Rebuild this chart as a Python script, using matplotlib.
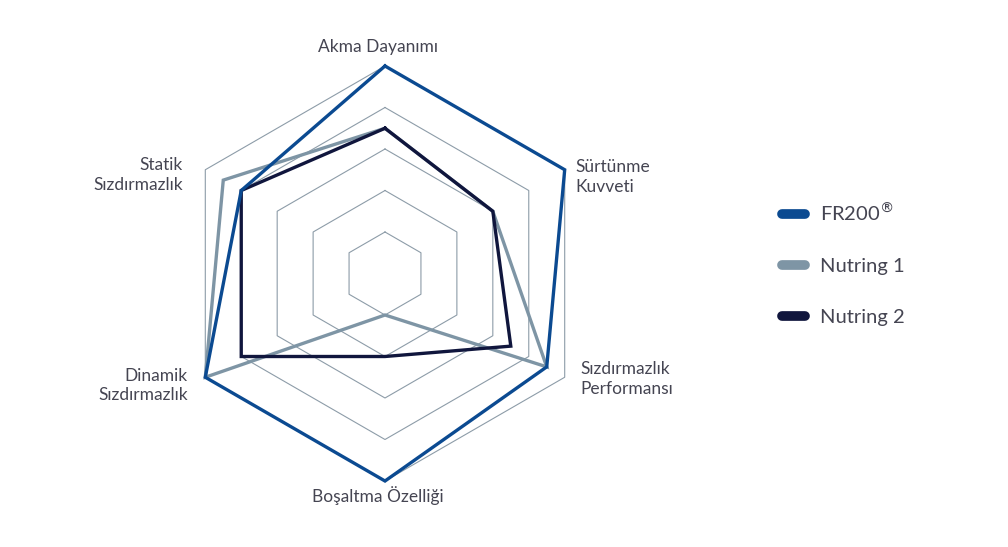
import numpy as np
import matplotlib
matplotlib.use("Agg")
import matplotlib.pyplot as plt
from matplotlib.lines import Line2D

categories = ["Akma Dayanımı", "Sürtünme\nKuvveti", "Sızdırmazlık\nPerformansı",
              "Boşaltma Özelliği", "Dinamik\nSızdırmazlık", "Statik\nSızdırmazlık"]
series_names = ["FR200$^{\\circledR}$", "Nutring 1", "Nutring 2"]
fr200 = [5, 5, 4.5, 5, 5, 4]
nutring1 = [3.5, 3, 4.5, 1, 5, 4.5]
nutring2 = [3.5, 3, 3.5, 2, 4, 4]
levels = [1, 2, 3, 4, 5]

colors = ["#0b4a91", "#7e95a5", "#10163d"]
grid_color = "#8d9ca8"
text_color = "#454552"

plt.rcParams["font.family"] = ["Lato", "DejaVu Sans"]

W, H, dpi = 1008, 547, 100
fig = plt.figure(figsize=(W / dpi, H / dpi), dpi=dpi)
ax = fig.add_axes([0, 0, 1, 1])
unit = 41.5  # pixels per level
cx, cy = 385, 273.5
ax.set_xlim(-cx / unit, (W - cx) / unit)
ax.set_ylim(-(H - cy) / unit, cy / unit)
ax.set_aspect("equal")
ax.axis("off")

angles = np.deg2rad(90 - 60 * np.arange(len(categories)))


def closed(vals):
    v = np.asarray(vals, dtype=float)
    x = v * np.cos(angles)
    y = v * np.sin(angles)
    return np.append(x, x[0]), np.append(y, y[0])


# hexagon grid
for lv in levels:
    gx, gy = closed([lv] * len(categories))
    ax.plot(gx, gy, color=grid_color, lw=0.8, zorder=0)

# series
data = [fr200, nutring1, nutring2]
zorders = [3, 1, 2]
for vals, c, z in zip(data, colors, zorders):
    sx, sy = closed(vals)
    ax.plot(sx, sy, color=c, lw=2.4, zorder=z, solid_joinstyle="miter")

# axis labels
lab_kw = dict(fontsize=12.5, color=text_color, linespacing=1.3)
ax.text(-0.17, 5.45, categories[0], ha="center", va="center", **lab_kw)
ax.text(4.58, 2.32, categories[1], ha="left", va="center", **lab_kw)
ax.text(4.7, -2.55, categories[2], ha="left", va="center", **lab_kw)
ax.text(-0.17, -5.35, categories[3], ha="center", va="center", **lab_kw)
ax.text(-4.75, -2.7, categories[4], ha="right", va="center", **lab_kw)
ax.text(-4.87, 2.37, categories[5], ha="right", va="center", **lab_kw)

handles = [Line2D([0], [0], color=c, lw=7, solid_capstyle="round") for c in colors]
leg = fig.legend(handles, series_names, loc="center left",
                 bbox_to_anchor=(764 / W, 1 - 264 / H), frameon=False,
                 fontsize=14.5, handlelength=1.15, handletextpad=0.75,
                 labelspacing=1.7)
for t in leg.get_texts():
    t.set_color(text_color)

fig.savefig("out.png", dpi=dpi, facecolor="white")
